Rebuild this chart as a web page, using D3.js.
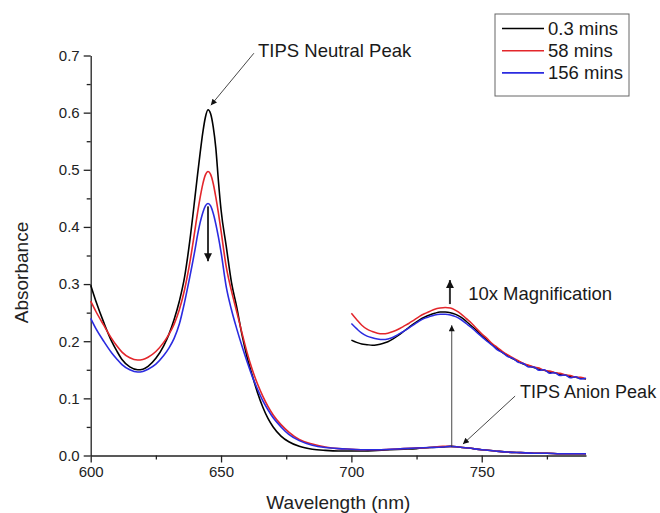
<!DOCTYPE html>
<html><head><meta charset="utf-8">
<script src="https://cdn.jsdelivr.net/npm/d3@7"></script>
<style>
html,body{margin:0;padding:0;background:#fff;}
text{font-family:"Liberation Sans",Arial,sans-serif;}
</style></head>
<body>
<svg id="chart" width="660" height="513"></svg>
<script>
// ---------- data ----------
const wavelengths = [600,602,605,608,610,612,615,618,620,622,625,628,630,632,634,636,638,640,641,642,643,644,645,646,647,648,649,650,652,654,656,658,660,662,664,666,668,670,673,676,680,685,690,695,700,705,710,715,720,725,730,735,738,741,745,750,755,760,765,770,775,780,785,790];
const abs03 = [0.298,0.270,0.233,0.200,0.183,0.168,0.155,0.150,0.151,0.156,0.170,0.192,0.212,0.238,0.270,0.312,0.375,0.452,0.492,0.530,0.565,0.592,0.605,0.598,0.575,0.538,0.480,0.430,0.366,0.303,0.260,0.212,0.172,0.140,0.110,0.085,0.065,0.050,0.034,0.024,0.016,0.011,0.009,0.008,0.008,0.008,0.009,0.010,0.011,0.012,0.014,0.015,0.016,0.015,0.013,0.010,0.008,0.006,0.005,0.004,0.004,0.003,0.003,0.003];
const abs58 = [0.270,0.252,0.228,0.205,0.192,0.181,0.171,0.167,0.168,0.172,0.182,0.198,0.212,0.230,0.255,0.290,0.337,0.395,0.425,0.452,0.475,0.491,0.497,0.492,0.476,0.452,0.424,0.393,0.330,0.288,0.252,0.215,0.180,0.150,0.125,0.104,0.086,0.071,0.054,0.041,0.028,0.020,0.015,0.012,0.011,0.010,0.010,0.011,0.012,0.013,0.014,0.016,0.016,0.015,0.013,0.010,0.008,0.006,0.005,0.004,0.004,0.003,0.003,0.003];
const abs156 = [0.240,0.222,0.200,0.180,0.169,0.159,0.150,0.146,0.147,0.151,0.160,0.175,0.188,0.205,0.230,0.268,0.312,0.360,0.386,0.408,0.425,0.437,0.441,0.437,0.424,0.405,0.382,0.356,0.295,0.255,0.222,0.192,0.164,0.138,0.116,0.096,0.080,0.066,0.050,0.037,0.026,0.018,0.014,0.012,0.011,0.010,0.010,0.011,0.012,0.013,0.014,0.015,0.016,0.015,0.013,0.010,0.008,0.006,0.005,0.004,0.004,0.003,0.003,0.003];

// 10x magnified anion region
const magWavelengths = [700,702,704,706,708,710,712,714,716,718,720,722,724,726,728,730,732,734,736,738,740,742,744,746,748,750,752,754,756,758,760,762,764,766,768,770,772,774,776,778,780,782,784,786,788,790];
const mag03 = [0.202,0.198,0.195,0.194,0.193,0.194,0.196,0.199,0.204,0.210,0.217,0.224,0.231,0.237,0.242,0.246,0.249,0.251,0.251,0.250,0.247,0.242,0.235,0.227,0.219,0.210,0.202,0.194,0.187,0.180,0.175,0.169,0.165,0.160,0.157,0.154,0.151,0.149,0.146,0.145,0.142,0.141,0.138,0.137,0.135,0.134];
const mag58 = [0.249,0.238,0.228,0.221,0.217,0.214,0.213,0.214,0.217,0.221,0.226,0.231,0.237,0.243,0.248,0.252,0.256,0.258,0.259,0.258,0.254,0.248,0.240,0.232,0.222,0.213,0.205,0.196,0.189,0.182,0.176,0.171,0.166,0.161,0.158,0.155,0.153,0.149,0.148,0.145,0.144,0.141,0.140,0.137,0.137,0.134];
const mag156 = [0.231,0.222,0.214,0.209,0.206,0.204,0.203,0.204,0.207,0.212,0.217,0.223,0.229,0.235,0.240,0.243,0.246,0.247,0.247,0.246,0.243,0.238,0.231,0.224,0.216,0.208,0.200,0.193,0.185,0.180,0.173,0.170,0.163,0.161,0.155,0.155,0.149,0.150,0.144,0.145,0.140,0.141,0.136,0.138,0.134,0.135];

const seriesNames = ["0.3 mins","58 mins","156 mins"];
const seriesColors = ["#000000","#e3262b","#2b2be0"];
const xTicks = [600,650,700,750];
const xMinorTicks = [625,675,725,775];
const yTicks = [0,0.1,0.2,0.3,0.4,0.5,0.6,0.7];
const yMinorTicks = [0.05,0.15,0.25,0.35,0.45,0.55,0.65];

// annotations in data units
const annNeutral = {text:"TIPS Neutral Peak", tx:664.2, ty:0.698, x1:662.6, y1:0.704, x2:646.1, y2:0.613};
const annDown = {x:645, y1:0.436, y2:0.340};
const annMag = {text:"10x Magnification", tx:744.8, ty:0.272, x:737.8, y1:0.265, y2:0.307};
const annLong = {x:738.5, y1:0.015, y2:0.228};
const annAnion = {text:"TIPS Anion Peak", tx:764.7, ty:0.100, x1:762.8, y1:0.104, x2:742.8, y2:0.020};

// ---------- layout ----------
const svg = d3.select("#chart");
const margin = {left:90.7, right:74, top:55.5, bottom:57.5};
const W = 660, H = 513;
const x = d3.scaleLinear().domain([600,790]).range([margin.left, W - margin.right]);
const y = d3.scaleLinear().domain([0,0.7]).range([H - margin.bottom, margin.top]);

const defs = svg.append("defs");
function marker(id, w, h){
  defs.append("marker").attr("id",id).attr("viewBox","0 0 10 10").attr("refX",10).attr("refY",5)
    .attr("markerWidth",w).attr("markerHeight",h).attr("markerUnits","userSpaceOnUse").attr("orient","auto")
    .append("path").attr("d","M0,0 L10,5 L0,10 z").attr("fill","#111");
}
marker("ahSmall",9,6);
marker("ahBig",11,8);

// ---------- axes ----------
const axisColor = "#222";
const gx = svg.append("g").attr("transform",`translate(0,${y(0)})`)
  .call(d3.axisBottom(x).tickValues(xTicks).tickSize(7).tickSizeOuter(0).tickPadding(4).tickFormat(d3.format("d")));
const gxm = svg.append("g").attr("transform",`translate(0,${y(0)})`)
  .call(d3.axisBottom(x).tickValues(xMinorTicks).tickSize(4).tickSizeOuter(0).tickFormat(""));
gxm.select(".domain").remove();
const gy = svg.append("g").attr("transform",`translate(${x(600)},0)`)
  .call(d3.axisLeft(y).tickValues(yTicks).tickSize(7).tickSizeOuter(0).tickPadding(4).tickFormat(d3.format(".1f")));
const gym = svg.append("g").attr("transform",`translate(${x(600)},0)`)
  .call(d3.axisLeft(y).tickValues(yMinorTicks).tickSize(4).tickSizeOuter(0).tickFormat(""));
gym.select(".domain").remove();
[gx,gxm,gy,gym].forEach(g=>{
  g.selectAll("path,line").attr("stroke",axisColor).attr("stroke-width",1.3);
  g.selectAll("text").attr("fill","#222").style("font-size","15px").style("font-family","'Liberation Sans',Arial,sans-serif");
});

svg.append("text").attr("transform",`translate(28,${(y(0)+y(0.7))/2+17}) rotate(-90)`)
  .attr("text-anchor","middle").style("font-size","19px").attr("fill","#222").text("Absorbance");
svg.append("text").attr("x",(x(600)+x(790))/2).attr("y",509)
  .attr("text-anchor","middle").style("font-size","19px").attr("fill","#222").text("Wavelength (nm)");

// ---------- curves ----------
const line = d3.line().curve(d3.curveMonotoneX).x(d=>x(d[0])).y(d=>y(d[1]));
const mainSeries = [abs03, abs58, abs156];
const magSeries = [mag03, mag58, mag156];
mainSeries.forEach((vals,i)=>{
  svg.append("path").datum(wavelengths.map((w,j)=>[w,vals[j]]))
    .attr("d",line).attr("fill","none").attr("stroke",seriesColors[i]).attr("stroke-width",1.6);
});
magSeries.forEach((vals,i)=>{
  svg.append("path").datum(magWavelengths.map((w,j)=>[w,vals[j]]))
    .attr("d",line).attr("fill","none").attr("stroke",seriesColors[i]).attr("stroke-width",1.5);
});

// ---------- annotations ----------
const annG = svg.append("g");
function arrow(x1,y1,x2,y2,w,m){
  annG.append("line").attr("x1",x(x1)).attr("y1",y(y1)).attr("x2",x(x2)).attr("y2",y(y2))
    .attr("stroke","#333").attr("stroke-width",w).attr("marker-end",`url(#${m})`);
}
arrow(annNeutral.x1,annNeutral.y1,annNeutral.x2,annNeutral.y2,0.9,"ahSmall");
annG.append("text").attr("x",x(annNeutral.tx)).attr("y",y(annNeutral.ty)).style("font-size","18.5px").attr("fill","#1a1a1a").text(annNeutral.text);
arrow(annDown.x,annDown.y1,annDown.x,annDown.y2,2,"ahBig");
arrow(annMag.x,annMag.y1,annMag.x,annMag.y2,2,"ahBig");
annG.append("text").attr("x",x(annMag.tx)).attr("y",y(annMag.ty)).style("font-size","18.5px").attr("fill","#1a1a1a").text(annMag.text);
arrow(annLong.x,annLong.y1,annLong.x,annLong.y2,0.9,"ahSmall");
arrow(annAnion.x1,annAnion.y1,annAnion.x2,annAnion.y2,0.9,"ahSmall");
annG.append("text").attr("x",x(annAnion.tx)).attr("y",y(annAnion.ty)).style("font-size","18px").attr("fill","#1a1a1a").text(annAnion.text);

// ---------- legend ----------
const lg = svg.append("g");
lg.append("rect").attr("x",495).attr("y",14).attr("width",134).attr("height",82)
  .attr("fill","#fff").attr("stroke","#666").attr("stroke-width",1);
seriesNames.forEach((n,i)=>{
  const cy = 28.5 + i*22.2;
  lg.append("line").attr("x1",502).attr("x2",544).attr("y1",cy).attr("y2",cy)
    .attr("stroke",seriesColors[i]).attr("stroke-width",1.6);
  lg.append("text").attr("x",548).attr("y",cy).attr("dy","0.35em").style("font-size","18.5px").attr("fill","#1a1a1a").text(n);
});
</script>
</body></html>
